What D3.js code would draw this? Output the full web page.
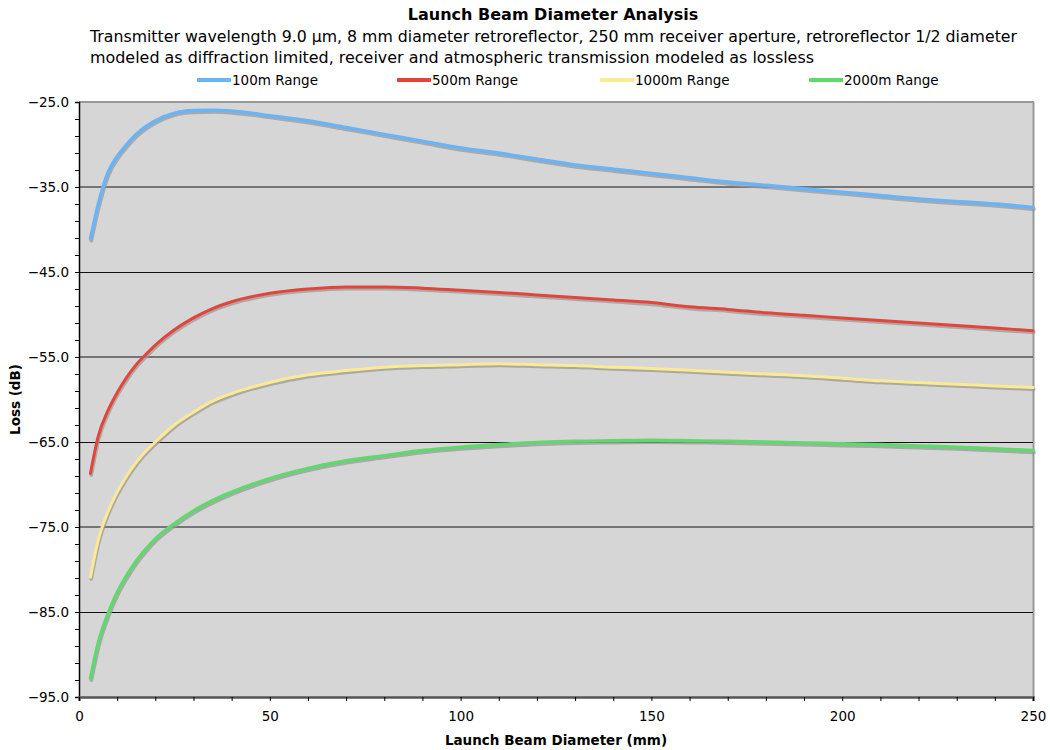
<!DOCTYPE html>
<html>
<head>
<meta charset="utf-8">
<script src="https://cdn.jsdelivr.net/npm/d3@7"></script>
<style>
  body { margin: 0; background: #fff; }
  text { font-family: "DejaVu Sans", "Noto Sans", sans-serif; fill: #000; }
</style>
</head>
<body>
<svg id="chart" width="1050" height="750"></svg>
<script>
// ---- data ----
const title = "Launch Beam Diameter Analysis";
const subtitleLines = [
  "Transmitter wavelength 9.0 \u00b5m, 8 mm diameter retroreflector, 250 mm receiver aperture, retroreflector 1/2 diameter",
  "modeled as diffraction limited, receiver and atmospheric transmission modeled as lossless"
];
const xLabel = "Launch Beam Diameter (mm)";
const yLabel = "Loss (dB)";

const diameters = [3, 5, 7.5, 10, 12.5, 15, 17.5, 20, 25, 30, 35, 40, 50, 60, 70, 80, 90, 100,
  110, 120, 130, 140, 150, 160, 170, 180, 190, 200, 210, 220, 230, 240, 250];

const seriesNames = ["100m Range", "500m Range", "1000m Range", "2000m Range"];
const seriesColors = ["#68b4f7", "#e2453a", "#fbea92", "#5fd96c"];

const range100 = [-41.1, -37.1, -33.4, -31.4, -30.0, -28.8, -27.9, -27.2, -26.3, -26.0, -25.95, -26.05,
  -26.6, -27.2, -28.0, -28.8, -29.6, -30.4, -31.0, -31.7, -32.4, -32.9, -33.4, -33.9, -34.4,
  -34.8, -35.2, -35.6, -36.0, -36.4, -36.7, -37.0, -37.4];
const range500 = [-68.7, -64.4, -61.4, -59.2, -57.4, -55.9, -54.7, -53.6, -51.8, -50.4, -49.3, -48.5,
  -47.5, -47.0, -46.75, -46.75, -46.9, -47.15, -47.4, -47.7, -48.0, -48.3, -48.6, -49.1, -49.4,
  -49.8, -50.1, -50.4, -50.7, -51.0, -51.3, -51.6, -51.9];
const range1000 = [-80.9, -76.6, -73.3, -70.9, -69.0, -67.4, -66.1, -65.0, -63.0, -61.5, -60.2, -59.3,
  -58.0, -57.1, -56.6, -56.2, -56.0, -55.9, -55.8, -55.9, -56.0, -56.2, -56.35, -56.55, -56.8,
  -57.0, -57.2, -57.5, -57.8, -58.0, -58.2, -58.4, -58.6];
const range2000 = [-92.8, -88.7, -85.3, -82.7, -80.7, -79.0, -77.6, -76.4, -74.6, -73.1, -71.9, -70.9,
  -69.3, -68.1, -67.2, -66.6, -66.0, -65.6, -65.3, -65.05, -64.9, -64.85, -64.8, -64.85, -64.9,
  -65.0, -65.1, -65.2, -65.3, -65.45, -65.6, -65.8, -66.0];
const seriesValues = [range100, range500, range1000, range2000];

const yMajorTicks = [-25, -35, -45, -55, -65, -75, -85, -95];
const yMinorTicks = d3.range(-93, -25, 2);
const xMajorTicks = [0, 50, 100, 150, 200, 250];
const xMinorTicks = d3.range(0, 251, 10);

// ---- layout ----
const svg = d3.select("#chart");
const L = 79, R = 1033, T = 102, B = 697;

const x = d3.scaleLinear().domain([0, 250]).range([L, R]);
const y = d3.scaleLinear().domain([-95, -25]).range([B, T]);

// title & subtitle
svg.append("text").attr("x", 553).attr("y", 20).attr("text-anchor", "middle")
  .style("font-size", "16px").style("font-weight", "bold").text(title);
const subLens = [927, 724];
subtitleLines.forEach((s, i) => {
  svg.append("text").attr("x", 90).attr("y", 42 + i * 21)
    .style("font-size", "15.6px")
    .attr("textLength", subLens[i]).attr("lengthAdjust", "spacingAndGlyphs")
    .text(s);
});

// legend
const legendX = [197, 397, 600, 809];
seriesNames.forEach((n, i) => {
  svg.append("line").attr("x1", legendX[i]).attr("x2", legendX[i] + 34)
    .attr("y1", 80).attr("y2", 80)
    .attr("stroke", seriesColors[i]).attr("stroke-width", 4);
  svg.append("text").attr("x", legendX[i] + 35).attr("y", 85)
    .style("font-size", "13.5px").text(n);
});

// plot background
svg.append("rect").attr("x", L).attr("y", T).attr("width", R - L).attr("height", B - T)
  .attr("fill", "#d6d6d6");

// top & right border
svg.append("line").attr("x1", L).attr("x2", R + 1).attr("y1", T).attr("y2", T)
  .attr("stroke", "#999").attr("stroke-width", 2);
svg.append("line").attr("x1", R + 0.5).attr("x2", R + 0.5).attr("y1", T).attr("y2", B)
  .attr("stroke", "#999").attr("stroke-width", 2);

// grid
svg.append("g").selectAll("line").data(yMajorTicks.filter(v => v !== -25 && v !== -95))
  .join("line")
  .attr("x1", L).attr("x2", R)
  .attr("y1", (d, i) => Math.round(y(d)) + (i % 2 === 0 ? 0 : 0.5))
  .attr("y2", (d, i) => Math.round(y(d)) + (i % 2 === 0 ? 0 : 0.5))
  .attr("stroke", (d, i) => i % 2 === 0 ? "#555" : "#111")
  .attr("stroke-width", (d, i) => i % 2 === 0 ? 1.6 : 1);

// series
const line = d3.line().x(d => x(d[0])).y(d => y(d[1])).curve(d3.curveMonotoneX);
seriesValues.forEach((vals, i) => {
  const pts = diameters.map((d, j) => [d, vals[j]]);
  const w = (i === 0 || i === 3) ? 3.4 : 3;
  svg.append("path").datum(pts).attr("d", line)
    .attr("fill", "none").attr("stroke", "#9a9a9a").attr("stroke-width", w + 0.5)
    .attr("stroke-opacity", 0.75)
    .attr("stroke-linecap", "round")
    .attr("transform", "translate(0.8,1.8)");
  svg.append("path").datum(pts).attr("d", line)
    .attr("fill", "none").attr("stroke", seriesColors[i]).attr("stroke-width", w)
    .attr("stroke-linecap", "round");
});

// axes
const yAxis = d3.axisLeft(y).tickValues(yMajorTicks).tickFormat(d3.format(".1f"))
  .tickSize(4).tickPadding(6);
const gy = svg.append("g").attr("transform", `translate(${L},0)`).call(yAxis);
gy.select(".domain").attr("stroke", "#000").attr("stroke-width", 1.5);
gy.selectAll("text").style("font-size", "13.5px").style("font-family", "DejaVu Sans, sans-serif");

const yMinor = d3.axisLeft(y).tickValues(yMinorTicks).tickFormat("").tickSize(4);
const gym = svg.append("g").attr("transform", `translate(${L},0)`).call(yMinor);
gym.select(".domain").remove();

const xAxis = d3.axisBottom(x).tickValues(xMinorTicks)
  .tickFormat(d => xMajorTicks.includes(d) ? d3.format("d")(d) : "")
  .tickSize(4).tickPadding(10);
const gx = svg.append("g").attr("transform", `translate(0,${B})`).call(xAxis);
gx.select(".domain").attr("stroke", "#555").attr("stroke-width", 2.5);
gx.selectAll("text").style("font-size", "13.5px").style("font-family", "DejaVu Sans, sans-serif");

// axis titles
svg.append("text").attr("x", 556).attr("y", 745).attr("text-anchor", "middle")
  .style("font-size", "13.5px").style("font-weight", "bold").text(xLabel);
svg.append("text").attr("transform", `translate(20,${(T + B) / 2}) rotate(-90)`)
  .attr("text-anchor", "middle")
  .style("font-size", "13.5px").style("font-weight", "bold").text(yLabel);
</script>
</body>
</html>
